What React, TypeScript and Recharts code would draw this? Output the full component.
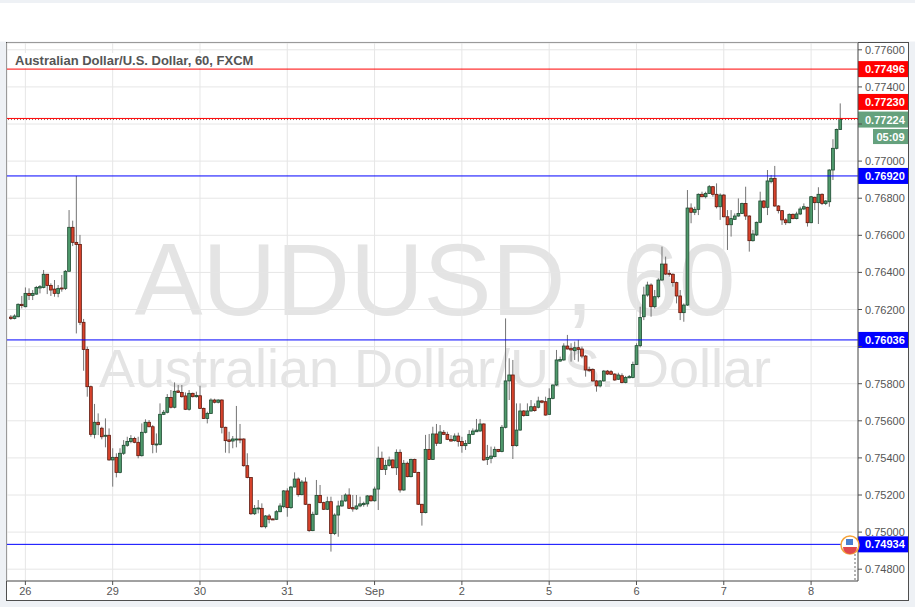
import { ComposedChart, Bar, XAxis, YAxis, CartesianGrid, ReferenceLine } from 'recharts'

// AUDUSD hourly candles, Aug 25 (late) .. Sep 8 2016
const opens = [
  0.76159, 0.76152, 0.76161, 0.76228, 0.76215, 0.76287, 0.76276, 0.76283, 0.76316, 0.76319,
  0.76390, 0.76330, 0.76310, 0.76287, 0.76316, 0.76314, 0.76406, 0.76643, 0.76562, 0.76551,
  0.76131, 0.75985, 0.75784, 0.75527, 0.75592, 0.75560, 0.75518, 0.75522, 0.75389, 0.75403,
  0.75322, 0.75425, 0.75468, 0.75489, 0.75505, 0.75484, 0.75412, 0.75538, 0.75592, 0.75568,
  0.75471, 0.75473, 0.75635, 0.75646, 0.75726, 0.75673, 0.75761, 0.75753, 0.75734, 0.75662,
  0.75748, 0.75730, 0.75735, 0.75667, 0.75613, 0.75640, 0.75712, 0.75700, 0.75712, 0.75565,
  0.75497, 0.75491, 0.75498, 0.75502, 0.75502, 0.75358, 0.75294, 0.75099, 0.75126, 0.75128,
  0.75029, 0.75087, 0.75071, 0.75069, 0.75110, 0.75137, 0.75222, 0.75132, 0.75243, 0.75286,
  0.75202, 0.75270, 0.75150, 0.75008, 0.75096, 0.75198, 0.75159, 0.75123, 0.75164, 0.74992,
  0.75092, 0.75141, 0.75168, 0.75200, 0.75132, 0.75125, 0.75141, 0.75148, 0.75152, 0.75195,
  0.75169, 0.75232, 0.75398, 0.75338, 0.75360, 0.75389, 0.75347, 0.75430, 0.75227, 0.75371,
  0.75299, 0.75392, 0.75322, 0.75150, 0.75105, 0.75446, 0.75392, 0.75529, 0.75479, 0.75538,
  0.75527, 0.75500, 0.75493, 0.75518, 0.75488, 0.75466, 0.75478, 0.75527, 0.75541, 0.75545,
  0.75583, 0.75392, 0.75398, 0.75407, 0.75446, 0.75434, 0.75565, 0.75815, 0.75847, 0.75466,
  0.75550, 0.75653, 0.75628, 0.75653, 0.75676, 0.75673, 0.75707, 0.75703, 0.75635, 0.75721,
  0.75793, 0.75922, 0.75928, 0.76003, 0.75991, 0.75978, 0.75994, 0.75987, 0.75949, 0.75877,
  0.75877, 0.75815, 0.75788, 0.75815, 0.75868, 0.75865, 0.75852, 0.75824, 0.75843, 0.75806,
  0.75832, 0.75834, 0.75904, 0.76005, 0.76161, 0.76278, 0.76332, 0.76215, 0.76269, 0.76359,
  0.76445, 0.76395, 0.76390, 0.76345, 0.76273, 0.76183, 0.76224, 0.76747, 0.76724, 0.76740,
  0.76821, 0.76808, 0.76826, 0.76862, 0.76821, 0.76754, 0.76817, 0.76700, 0.76657, 0.76686,
  0.76704, 0.76718, 0.76772, 0.76704, 0.76571, 0.76602, 0.76670, 0.76785, 0.76751, 0.76889,
  0.76907, 0.76758, 0.76733, 0.76683, 0.76668, 0.76713, 0.76690, 0.76715, 0.76742, 0.76751,
  0.76668, 0.76805, 0.76776, 0.76821, 0.76772, 0.76781, 0.76952, 0.77069, 0.77171,
]
const highs = [
  0.76170, 0.76174, 0.76233, 0.76273, 0.76319, 0.76314, 0.76305, 0.76327, 0.76332, 0.76413,
  0.76391, 0.76341, 0.76359, 0.76332, 0.76386, 0.76413, 0.76736, 0.76679, 0.76920, 0.76602,
  0.76149, 0.76000, 0.75790, 0.75691, 0.75640, 0.75568, 0.75613, 0.75559, 0.75452, 0.75425,
  0.75452, 0.75496, 0.75514, 0.75523, 0.75514, 0.75514, 0.75586, 0.75608, 0.75604, 0.75577,
  0.75532, 0.75694, 0.75658, 0.75744, 0.75766, 0.75807, 0.75793, 0.75793, 0.75753, 0.75766,
  0.75752, 0.75757, 0.75789, 0.75671, 0.75649, 0.75721, 0.75719, 0.75716, 0.75716, 0.75568,
  0.75541, 0.75518, 0.75680, 0.75583, 0.75505, 0.75425, 0.75296, 0.75146, 0.75173, 0.75155,
  0.75092, 0.75098, 0.75074, 0.75119, 0.75155, 0.75227, 0.75236, 0.75249, 0.75322, 0.75295,
  0.75281, 0.75295, 0.75152, 0.75110, 0.75281, 0.75254, 0.75164, 0.75191, 0.75191, 0.75101,
  0.75169, 0.75200, 0.75209, 0.75236, 0.75200, 0.75200, 0.75191, 0.75164, 0.75200, 0.75200,
  0.75245, 0.75461, 0.75434, 0.75389, 0.75407, 0.75392, 0.75446, 0.75446, 0.75389, 0.75380,
  0.75396, 0.75396, 0.75325, 0.75152, 0.75524, 0.75529, 0.75568, 0.75583, 0.75577, 0.75550,
  0.75541, 0.75523, 0.75532, 0.75536, 0.75514, 0.75496, 0.75550, 0.75559, 0.75610, 0.75610,
  0.75586, 0.75470, 0.75461, 0.75461, 0.75448, 0.75577, 0.76152, 0.75937, 0.75928, 0.75694,
  0.75694, 0.75658, 0.75694, 0.75712, 0.75694, 0.75730, 0.75712, 0.75730, 0.75775, 0.75796,
  0.75982, 0.75946, 0.76018, 0.76063, 0.76018, 0.76027, 0.76036, 0.76000, 0.75955, 0.75892,
  0.75883, 0.75820, 0.75820, 0.75874, 0.75874, 0.75874, 0.75856, 0.75859, 0.75856, 0.75842,
  0.75847, 0.75919, 0.76018, 0.76215, 0.76323, 0.76350, 0.76341, 0.76305, 0.76368, 0.76539,
  0.76485, 0.76413, 0.76395, 0.76350, 0.76305, 0.76233, 0.76844, 0.76772, 0.76754, 0.76826,
  0.76835, 0.76835, 0.76871, 0.76866, 0.76880, 0.76826, 0.76823, 0.76736, 0.76736, 0.76718,
  0.76799, 0.76776, 0.76862, 0.76708, 0.76629, 0.76674, 0.76835, 0.76790, 0.76952, 0.76925,
  0.76974, 0.76763, 0.76736, 0.76692, 0.76718, 0.76718, 0.76727, 0.76754, 0.76772, 0.76754,
  0.76812, 0.76808, 0.76859, 0.76826, 0.76790, 0.76956, 0.77118, 0.77175, 0.77311,
]
const lows = [
  0.76144, 0.76147, 0.76158, 0.76206, 0.76212, 0.76251, 0.76251, 0.76280, 0.76287, 0.76314,
  0.76283, 0.76273, 0.76269, 0.76266, 0.76296, 0.76305, 0.76404, 0.76542, 0.76071, 0.76116,
  0.75870, 0.75730, 0.75514, 0.75505, 0.75523, 0.75500, 0.75457, 0.75385, 0.75245, 0.75295,
  0.75317, 0.75416, 0.75460, 0.75479, 0.75479, 0.75398, 0.75407, 0.75532, 0.75565, 0.75425,
  0.75428, 0.75468, 0.75631, 0.75640, 0.75667, 0.75667, 0.75752, 0.75725, 0.75658, 0.75655,
  0.75726, 0.75725, 0.75664, 0.75611, 0.75586, 0.75637, 0.75694, 0.75694, 0.75532, 0.75428,
  0.75425, 0.75452, 0.75457, 0.75479, 0.75353, 0.75290, 0.75092, 0.75092, 0.75101, 0.75025,
  0.75020, 0.75047, 0.75065, 0.75065, 0.75107, 0.75128, 0.75083, 0.75125, 0.75240, 0.75191,
  0.75198, 0.75146, 0.75001, 0.75005, 0.75092, 0.75155, 0.75119, 0.75119, 0.74895, 0.74984,
  0.74975, 0.75137, 0.75164, 0.75125, 0.75110, 0.75119, 0.75134, 0.75137, 0.75137, 0.75164,
  0.75164, 0.75119, 0.75335, 0.75308, 0.75353, 0.75344, 0.75308, 0.75213, 0.75223, 0.75295,
  0.75295, 0.75319, 0.75146, 0.75035, 0.75101, 0.75389, 0.75389, 0.75464, 0.75475, 0.75523,
  0.75496, 0.75488, 0.75488, 0.75461, 0.75428, 0.75443, 0.75475, 0.75523, 0.75540, 0.75541,
  0.75385, 0.75362, 0.75371, 0.75403, 0.75430, 0.75430, 0.75559, 0.75712, 0.75394, 0.75461,
  0.75547, 0.75622, 0.75626, 0.75649, 0.75649, 0.75667, 0.75694, 0.75628, 0.75631, 0.75716,
  0.75788, 0.75919, 0.75924, 0.75985, 0.75919, 0.75928, 0.75919, 0.75937, 0.75838, 0.75865,
  0.75811, 0.75757, 0.75780, 0.75811, 0.75847, 0.75847, 0.75816, 0.75820, 0.75802, 0.75802,
  0.75829, 0.75829, 0.75901, 0.75996, 0.76143, 0.76269, 0.76161, 0.76206, 0.76260, 0.76355,
  0.76386, 0.76377, 0.76323, 0.76233, 0.76143, 0.76134, 0.76219, 0.76665, 0.76709, 0.76709,
  0.76805, 0.76799, 0.76823, 0.76808, 0.76745, 0.76683, 0.76697, 0.76521, 0.76593, 0.76683,
  0.76700, 0.76715, 0.76683, 0.76512, 0.76566, 0.76596, 0.76665, 0.76745, 0.76709, 0.76880,
  0.76754, 0.76718, 0.76656, 0.76656, 0.76665, 0.76686, 0.76686, 0.76709, 0.76736, 0.76647,
  0.76665, 0.76736, 0.76661, 0.76763, 0.76763, 0.76754, 0.76898, 0.77063, 0.77168,
]
const closes = [
  0.76152, 0.76165, 0.76228, 0.76221, 0.76287, 0.76276, 0.76287, 0.76319, 0.76323, 0.76390,
  0.76330, 0.76305, 0.76287, 0.76314, 0.76312, 0.76406, 0.76643, 0.76562, 0.76551, 0.76131,
  0.75985, 0.75784, 0.75527, 0.75592, 0.75579, 0.75514, 0.75522, 0.75389, 0.75403, 0.75322,
  0.75425, 0.75468, 0.75489, 0.75505, 0.75484, 0.75412, 0.75538, 0.75592, 0.75568, 0.75473,
  0.75475, 0.75635, 0.75646, 0.75726, 0.75673, 0.75759, 0.75753, 0.75730, 0.75662, 0.75748,
  0.75730, 0.75737, 0.75667, 0.75613, 0.75640, 0.75712, 0.75700, 0.75712, 0.75565, 0.75493,
  0.75489, 0.75502, 0.75502, 0.75498, 0.75358, 0.75294, 0.75099, 0.75128, 0.75130, 0.75029,
  0.75087, 0.75069, 0.75067, 0.75110, 0.75141, 0.75222, 0.75132, 0.75243, 0.75286, 0.75202,
  0.75270, 0.75150, 0.75008, 0.75096, 0.75198, 0.75159, 0.75123, 0.75164, 0.74992, 0.75092,
  0.75141, 0.75168, 0.75200, 0.75128, 0.75125, 0.75141, 0.75152, 0.75155, 0.75195, 0.75169,
  0.75232, 0.75398, 0.75338, 0.75360, 0.75389, 0.75347, 0.75430, 0.75227, 0.75371, 0.75299,
  0.75392, 0.75322, 0.75150, 0.75105, 0.75446, 0.75392, 0.75529, 0.75479, 0.75540, 0.75527,
  0.75500, 0.75491, 0.75518, 0.75488, 0.75466, 0.75478, 0.75527, 0.75545, 0.75550, 0.75583,
  0.75389, 0.75403, 0.75410, 0.75446, 0.75434, 0.75565, 0.75815, 0.75847, 0.75466, 0.75550,
  0.75653, 0.75628, 0.75653, 0.75676, 0.75655, 0.75707, 0.75700, 0.75631, 0.75721, 0.75793,
  0.75928, 0.75931, 0.76003, 0.75987, 0.75982, 0.75994, 0.75985, 0.75949, 0.75874, 0.75870,
  0.75815, 0.75788, 0.75815, 0.75868, 0.75852, 0.75851, 0.75820, 0.75847, 0.75806, 0.75834,
  0.75838, 0.75904, 0.76005, 0.76157, 0.76278, 0.76332, 0.76215, 0.76269, 0.76359, 0.76445,
  0.76391, 0.76390, 0.76345, 0.76273, 0.76183, 0.76224, 0.76747, 0.76724, 0.76740, 0.76821,
  0.76808, 0.76826, 0.76862, 0.76821, 0.76754, 0.76817, 0.76700, 0.76657, 0.76690, 0.76704,
  0.76718, 0.76772, 0.76704, 0.76571, 0.76607, 0.76670, 0.76785, 0.76751, 0.76893, 0.76907,
  0.76758, 0.76733, 0.76683, 0.76668, 0.76713, 0.76690, 0.76715, 0.76742, 0.76754, 0.76668,
  0.76808, 0.76776, 0.76821, 0.76772, 0.76785, 0.76952, 0.77069, 0.77171, 0.77224,
]

// first candle of each trading day and its axis label
const dayStarts = [4, 28, 52, 76, 100, 124, 148, 172, 196, 220]
const dayLabels = ['26', '29', '30', '31', 'Sep', '2', '5', '6', '7', '8']

const priceTicks = [
  0.748, 0.75, 0.752, 0.754, 0.756, 0.758, 0.76, 0.762, 0.764, 0.766, 0.768, 0.77, 0.772, 0.774, 0.776,
]

// drawn support / resistance levels
const resistLevels = [0.77496, 0.7723]
const supportLevels = [0.7692, 0.76036, 0.74934]
const lastPrice = 0.77224
const countdown = '05:09'

const data = opens.map((o, i) => ({
  i,
  open: o,
  high: highs[i],
  low: lows[i],
  close: closes[i],
  range: [lows[i], highs[i]],
}))

const FONT = '"Liberation Sans", Arial, sans-serif'
const tagged = [...resistLevels, ...supportLevels, lastPrice]

function Candle(props: any) {
  const { x, y, width, height, payload } = props
  if (!payload) return null
  const top = Math.min(y, y + height)
  const span = Math.abs(height)
  const k = span / (payload.high - payload.low || 1)
  const py = (p: number) => top + (payload.high - p) * k
  const cx = x + width / 2
  const up = payload.close >= payload.open
  const bTop = py(Math.max(payload.open, payload.close))
  const bH = Math.max(py(Math.min(payload.open, payload.close)) - bTop, 1)
  return (
    <g>
      <line x1={cx} x2={cx} y1={top} y2={top + span} stroke='#747474' strokeWidth={1} />
      <rect
        x={cx - 1.4}
        y={bTop}
        width={2.8}
        height={bH}
        fill={up ? '#4f9a6c' : '#d9432c'}
        stroke={up ? '#1d4a30' : '#5e1a0f'}
        strokeWidth={0.8}
      />
    </g>
  )
}

// price labels hidden behind a level tag are not drawn
function PriceTick(props: any) {
  const { x, y, payload } = props
  const v = payload.value
  if (tagged.some((t) => Math.abs(t - v) < 0.0004)) return null
  return (
    <text x={x} y={y} dy={4} fontSize={11} fill='#555' fontFamily={FONT} textAnchor='start'>
      {v.toFixed(5)}
    </text>
  )
}

function PriceTag(props: any) {
  const { viewBox, text, bg, shift = 0, timer } = props
  if (!viewBox) return null
  const x = viewBox.x + viewBox.width
  const y = viewBox.y + shift
  return (
    <g>
      <rect x={x} y={y - 8} width={50} height={16} fill={bg} />
      <text x={x + 7} y={y + 4} fill='#fff' fontSize={11} fontWeight={700} fontFamily={FONT}>
        {text}
      </text>
      {timer && (
        <g>
          <rect x={x + 15} y={y + 9.5} width={35} height={15} fill={bg} />
          <text x={x + 32.5} y={y + 21} fill='#fff' fontSize={11} fontWeight={700} fontFamily={FONT} textAnchor='middle'>
            {timer}
          </text>
        </g>
      )}
    </g>
  )
}

export default function App() {
  return (
    <div style={{ position: 'relative', width: 915, height: 607, background: '#eef1f5', overflow: 'hidden' }}>
      <style>{'body{margin:0}'}</style>
      <svg width={915} height={607} style={{ position: 'absolute', left: 0, top: 0 }}>
        <rect x={0} y={3} width={915} height={38.5} fill='#fff' />
        <rect x={6.5} y={42.5} width={902} height={558} fill='#fff' stroke='#4f4f4f' strokeWidth={1} />
        <text x={435} y={315} textAnchor='middle' fontSize={102} fill='#e4e4e4' fontFamily={FONT}>
          AUDUSD, 60
        </text>
        <text x={435} y={387} textAnchor='middle' fontSize={54} fill='#e4e4e4' fontFamily={FONT}>
          Australian Dollar/U.S. Dollar
        </text>
      </svg>
      <div style={{ position: 'absolute', left: 0, top: 0 }}>
        <ComposedChart width={915} height={607} data={data} margin={{ top: 43, right: 7, bottom: 7, left: 7 }}>
          <CartesianGrid stroke='#e6e6e6' strokeWidth={1} />
          <XAxis
            dataKey='i'
            ticks={dayStarts}
            interval={0}
            tickFormatter={(v: number) => dayLabels[dayStarts.indexOf(v)] ?? ''}
            padding={{ left: 2, right: 16 }}
            height={19}
            tickSize={4}
            tickMargin={2}
            stroke='#4f4f4f'
            tick={{ fontSize: 11, fill: '#555', fontFamily: FONT }}
          />
          <YAxis
            orientation='right'
            type='number'
            domain={[0.747364, 0.776367]}
            allowDataOverflow
            ticks={priceTicks}
            interval={0}
            width={50}
            tickSize={4}
            tickMargin={3}
            stroke='#4f4f4f'
            tick={<PriceTick />}
          />
          <Bar dataKey='range' shape={<Candle />} isAnimationActive={false} />
          {resistLevels.map((v) => (
            <ReferenceLine
              key={v}
              y={v}
              stroke='#ff0000'
              strokeWidth={1}
              label={
                <PriceTag
                  text={v.toFixed(5)}
                  bg='#ff0000'
                  shift={v > lastPrice && v - lastPrice < 0.0005 ? -16.5 : 0}
                />
              }
            />
          ))}
          {supportLevels.map((v) => (
            <ReferenceLine
              key={v}
              y={v}
              stroke='#0000ff'
              strokeWidth={1}
              label={<PriceTag text={v.toFixed(5)} bg='#0000ff' />}
            />
          ))}
          <ReferenceLine
            y={lastPrice}
            stroke='#b05050'
            strokeDasharray='1 2'
            strokeWidth={1}
            label={<PriceTag text={lastPrice.toFixed(5)} bg='#65a17d' timer={countdown} />}
          />
        </ComposedChart>
      </div>
      <svg width={915} height={607} style={{ position: 'absolute', left: 0, top: 0, pointerEvents: 'none' }}>
        <rect x={10} y={53} width={245} height={15} fill='#fff' />
        <text x={15} y={65} fontSize={13} fontWeight={700} fill='#555' fontFamily={FONT}>
          Australian Dollar/U.S. Dollar, 60, FXCM
        </text>
        <line x1={855} x2={855} y1={554} y2={581} stroke='#9a9a9a' strokeWidth={1.5} strokeDasharray='2 2' />
        <circle cx={850} cy={545} r={9} fill='#fff' stroke='#f5a33b' strokeWidth={1.5} />
        <path d='M843,547 A7,7 0 0 0 857,547 Z' fill='#e0474c' />
        <rect x={846} y={539} width={7} height={6} fill='#4a7fd0' />
      </svg>
    </div>
  )
}
